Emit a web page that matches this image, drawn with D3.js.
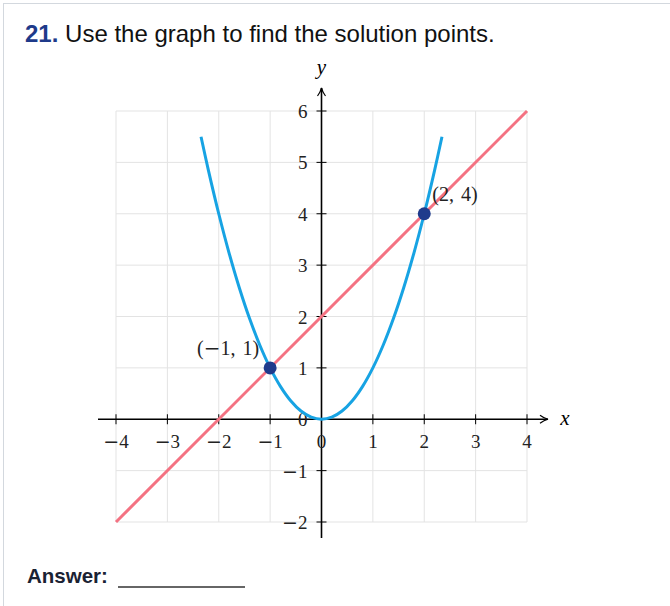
<!DOCTYPE html>
<html>
<head>
<meta charset="utf-8">
<script src="https://cdn.jsdelivr.net/npm/d3@7"></script>
<style>
  html, body { margin: 0; padding: 0; background: #fff; }
  body { width: 670px; height: 606px; overflow: hidden; position: relative; }
  #frame { position: absolute; left: 3px; top: 3px; width: 700px; height: 640px;
           border-left: 1.5px solid #d3d8de; border-top: 1.5px solid #d3d8de; }
  #chart { position: absolute; left: 0; top: 0; }
  .minus { font-family: 'DejaVu Serif', serif; }
</style>
</head>
<body>
<div id="frame"></div>
<div id="chart"></div>
<script>
// data
const xTicks = [-4, -3, -2, -1, 0, 1, 2, 3, 4];
const yTicks = [-2, -1, 0, 1, 2, 3, 4, 5, 6];
const gridX = [-4, -3, -2, -1, 0, 1, 2, 3, 4];
const gridY = [-2, -1, 0, 1, 2, 3, 4, 5, 6];
const parabolaX = [-2.345, -2.2, -2, -1.8, -1.6, -1.4, -1.2, -1, -0.8, -0.6, -0.4, -0.2, 0,
                   0.2, 0.4, 0.6, 0.8, 1, 1.2, 1.4, 1.6, 1.8, 2, 2.2, 2.345];
const parabolaY = parabolaX.map(x => x * x);
const lineX = [-4, 4];
const lineY = [-2, 6];
const solutions = [
  { x: -1, y: 1, label: "(−1, 1)" },
  { x: 2, y: 4, label: "(2, 4)" }
];

const W = 670, H = 606;
const svg = d3.select("#chart").append("svg").attr("width", W).attr("height", H);

const x = d3.scaleLinear().domain([-4, 4]).range([116, 527]);
const y = d3.scaleLinear().domain([-2, 6]).range([522, 111]);

const serif = "'Liberation Serif', 'DejaVu Serif', serif";
const sans = "'Liberation Sans', Arial, sans-serif";

// writes a math-ish label, giving the minus sign a wider glyph
function mathText(sel, str) {
  str.split(/(−)/).forEach(part => {
    if (!part) return;
    sel.append("tspan").attr("class", part === "−" ? "minus" : null).text(part);
  });
}

// title
const title = svg.append("text").attr("x", 25).attr("y", 42)
  .style("font-family", sans).style("font-size", "24px");
title.append("tspan").attr("font-weight", "bold").attr("fill", "#1e3a8a").text("21.");
title.append("tspan").attr("fill", "#111").text(" Use the graph to find the solution points.");

// grid
const grid = svg.append("g").attr("stroke", "#e3e3e3").attr("stroke-width", 1);
grid.selectAll(".gx").data(gridX).join("line")
  .attr("x1", d => x(d)).attr("x2", d => x(d))
  .attr("y1", y(-2)).attr("y2", y(6));
grid.selectAll(".gy").data(gridY).join("line")
  .attr("y1", d => y(d)).attr("y2", d => y(d))
  .attr("x1", x(-4)).attr("x2", x(4));

// axes with arrows
const defs = svg.append("defs");
defs.append("marker").attr("id", "arr").attr("viewBox", "0 0 10 10")
  .attr("refX", 9).attr("refY", 5).attr("markerWidth", 10).attr("markerHeight", 10)
  .attr("markerUnits", "userSpaceOnUse").attr("orient", "auto")
  .append("path").attr("d", "M1,1 Q5,4 9,5 Q5,6 1,9").attr("fill", "none")
  .attr("stroke", "#000").attr("stroke-width", 1.2);

const ax = svg.append("g").attr("stroke", "#000").attr("stroke-width", 1.6);
ax.append("line").attr("x1", 98).attr("x2", 548).attr("y1", y(0)).attr("y2", y(0))
  .attr("marker-end", "url(#arr)");
ax.append("line").attr("x1", x(0)).attr("x2", x(0)).attr("y1", 538).attr("y2", 88)
  .attr("marker-end", "url(#arr)");

// ticks
ax.selectAll(".tx").data(xTicks).join("line")
  .attr("x1", d => x(d)).attr("x2", d => x(d))
  .attr("y1", y(0) - 5).attr("y2", y(0) + 5).attr("stroke-width", 1);
ax.selectAll(".ty").data(yTicks).join("line")
  .attr("y1", d => y(d)).attr("y2", d => y(d))
  .attr("x1", x(0) - 5).attr("x2", x(0) + 5).attr("stroke-width", 1);

const fmt = d => d < 0 ? "−" + Math.abs(d) : String(d);
svg.append("g").selectAll("text").data(xTicks).join("text")
  .attr("x", d => x(d)).attr("y", y(0) + 29)
  .attr("text-anchor", "middle")
  .style("font-family", serif).style("font-size", "19px").attr("fill", "#222")
  .each(function (d) { mathText(d3.select(this), fmt(d)); });
svg.append("g").selectAll("text").data(yTicks).join("text")
  .attr("x", x(0) - 14).attr("y", d => y(d) + 7)
  .attr("text-anchor", "end")
  .style("font-family", serif).style("font-size", "19px").attr("fill", "#222")
  .each(function (d) { mathText(d3.select(this), fmt(d)); });

svg.append("text").attr("x", 565).attr("y", y(0) + 6).attr("text-anchor", "middle")
  .style("font-family", serif).style("font-style", "italic").style("font-size", "21px").text("x");
svg.append("text").attr("x", x(0)).attr("y", 74).attr("text-anchor", "middle")
  .style("font-family", serif).style("font-style", "italic").style("font-size", "21px").text("y");

// curves
const path = d3.line().x(d => x(d[0])).y(d => y(d[1])).curve(d3.curveCatmullRom);
svg.append("path").datum(parabolaX.map((v, i) => [v, parabolaY[i]]))
  .attr("d", path).attr("fill", "none").attr("stroke", "#17a3e3").attr("stroke-width", 3);
svg.append("path").datum(lineX.map((v, i) => [v, lineY[i]]))
  .attr("d", d3.line().x(d => x(d[0])).y(d => y(d[1])))
  .attr("fill", "none").attr("stroke", "#f47282").attr("stroke-width", 3);

// solution points
svg.append("g").selectAll("circle").data(solutions).join("circle")
  .attr("cx", d => x(d.x)).attr("cy", d => y(d.y)).attr("r", 6.5).attr("fill", "#1f3b8c");
svg.append("g").selectAll("text").data(solutions).join("text")
  .attr("x", d => d.x < 0 ? x(d.x) - 11 : x(d.x) + 8)
  .attr("y", d => y(d.y) - 13)
  .attr("text-anchor", d => d.x < 0 ? "end" : "start")
  .style("font-family", serif).style("font-size", "20px").attr("fill", "#222")
  .style("word-spacing", "2px")
  .each(function (d) { mathText(d3.select(this), d.label); });

// answer
svg.append("text").attr("x", 27).attr("y", 583)
  .style("font-family", sans).style("font-weight", "bold").style("font-size", "20.5px")
  .attr("fill", "#1a2233").text("Answer:");
svg.append("line").attr("x1", 118).attr("x2", 245).attr("y1", 587).attr("y2", 587)
  .attr("stroke", "#333").attr("stroke-width", 1.4);
</script>
</body>
</html>
